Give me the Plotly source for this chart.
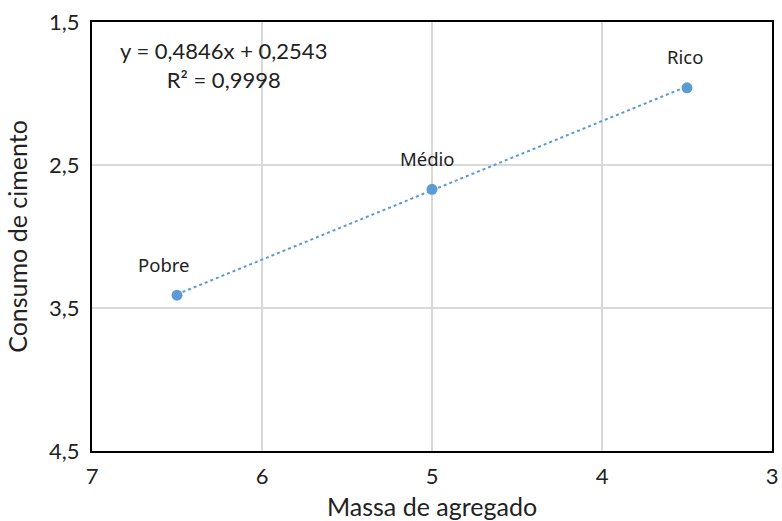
import numpy as np
import plotly.graph_objects as go

# Traços de concreto: massa de agregado x consumo de cimento
categorias = ["Pobre", "Médio", "Rico"]
massa_agregado = [6.5, 5.0, 3.5]
consumo_cimento = [3.41, 2.67, 1.96]

# Linha de tendência linear
inclinacao = 0.4846
intercepto = 0.2543
r2 = 0.9998

x_ticks = [7, 6, 5, 4, 3]
y_ticks = [1.5, 2.5, 3.5, 4.5]

azul = "#5B9BD5"
fonte_eixo = "Lato, 'DejaVu Sans', sans-serif"
fonte_rotulo = "'Noto Sans', 'Open Sans', sans-serif"

x_tend = np.array([max(massa_agregado), min(massa_agregado)])
y_tend = inclinacao * x_tend + intercepto

fig = go.Figure()
fig.add_trace(go.Scatter(
    x=x_tend, y=y_tend, mode="lines",
    line=dict(color=azul, width=2, dash="dot"),
    hoverinfo="skip", showlegend=False,
))
fig.add_trace(go.Scatter(
    x=massa_agregado, y=consumo_cimento, mode="markers",
    marker=dict(color=azul, size=11),
    showlegend=False,
))

deslocamentos_x = [-14, -5, -2]
for nome, xv, yv, dx in zip(categorias, massa_agregado, consumo_cimento, deslocamentos_x):
    fig.add_annotation(
        x=xv, y=yv, text=nome, showarrow=False,
        xshift=dx, yshift=31,
        font=dict(family=fonte_rotulo, size=18.5, color="#222222"),
    )

def fmt(v, casas):
    return f"{v:.{casas}f}".replace(".", ",")

fig.add_annotation(
    xref="paper", yref="paper", x=0.194, y=0.97,
    text=f"y = {fmt(inclinacao, 4)}x + {fmt(intercepto, 4)}<br>R² = {fmt(r2, 4)}",
    showarrow=False, align="center", xanchor="center", yanchor="top",
    font=dict(family=fonte_eixo, size=22, color="#222222"),
)

fig.update_layout(
    width=782, height=521,
    margin=dict(l=92, r=10, t=22, b=70),
    paper_bgcolor="white", plot_bgcolor="white",
    separators=",.",
    font=dict(family=fonte_eixo, color="#222222"),
)
fig.update_xaxes(
    range=[7, 3], tickvals=x_ticks, ticktext=[str(v) for v in x_ticks],
    showgrid=True, gridcolor="#D9D9D9", gridwidth=1.5,
    showline=True, linecolor="black", linewidth=2, mirror=True,
    zeroline=False, ticks="", ticklen=0, automargin=False,
    ticklabelstandoff=5,
    tickfont=dict(size=22, family=fonte_eixo),
    title=dict(text="Massa de agregado", font=dict(size=25, family=fonte_eixo), standoff=12),
)
fig.update_yaxes(
    range=[4.5, 1.5], tickvals=y_ticks, ticktext=[fmt(v, 1) for v in y_ticks],
    showgrid=True, gridcolor="#D9D9D9", gridwidth=1.5,
    showline=True, linecolor="black", linewidth=2, mirror=True,
    zeroline=False, ticks="", ticklen=0, automargin=False,
    ticklabelstandoff=6,
    tickfont=dict(size=22, family=fonte_eixo),
    title=dict(text="Consumo de cimento", font=dict(size=25, family=fonte_eixo), standoff=14),
)

fig.write_html("out.html")
